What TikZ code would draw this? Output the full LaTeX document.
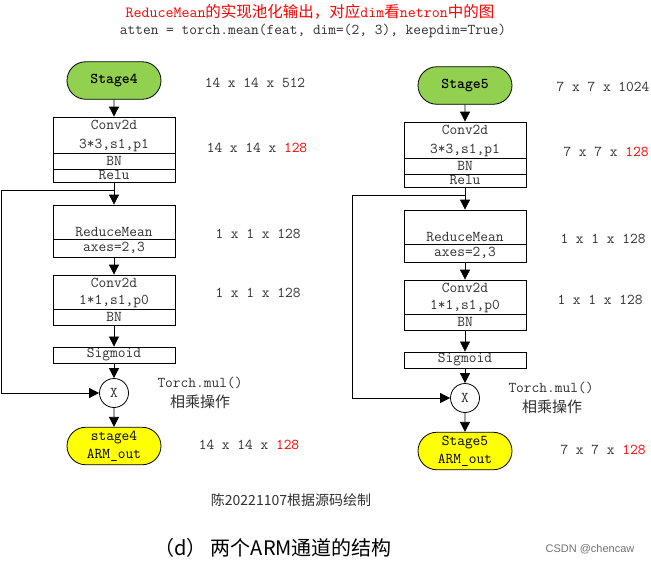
\documentclass[tikz,border=0pt]{standalone}
\usepackage{fontspec}
\setmainfont{Liberation Serif}
\let\lat\ttfamily
\newfontfamily\cjk{Noto Sans CJK SC}
\newfontfamily\sans{Liberation Sans}
\usetikzlibrary{shapes.misc,arrows.meta}
\definecolor{stagegreen}{HTML}{92D050}
\definecolor{outyellow}{HTML}{FFFF00}
\definecolor{lbl}{HTML}{303030}
\definecolor{redtxt}{HTML}{FF0000}
\tikzset{
  every node/.style={inner sep=0pt, text=lbl, font=\lat\fontsize{15}{18}\selectfont},
  term/.style={draw=black, line width=0.8pt, rounded rectangle, minimum width=94pt, minimum height=37.5pt, align=center, text=black},
  blk/.style={draw=black, line width=0.8pt, minimum width=122pt},
  divline/.style={line width=0.8pt},
  arr/.style={line width=0.8pt, -{Triangle[width=10pt,length=10pt]}},
  mulnode/.style={draw=black, circle, line width=0.8pt, minimum size=29pt},
  cjklbl/.style={font=\cjk\fontsize{15}{18}\selectfont},
}
\newcommand\armcol[3]{%
  \node[term, fill=stagegreen, font=\lat\bfseries\fontsize{15}{18}\selectfont] (#1s) at (114,80.5) {#2};
  \node[blk, minimum height=65pt] (#1c) at (114,149.5) {};
  \draw[divline] (53,153) -- (175,153) (53,169) -- (175,169);
  \node at (114,125) {Conv2d};
  \node at (114,145) {3*3,s1,p1};
  \node at (114,161) {BN};
  \node at (114,175.5) {Relu};
  \node[blk, minimum height=52pt] (#1r) at (114,231) {};
  \draw[divline] (53,239) -- (175,239);
  \node at (114,232) {ReduceMean};
  \node at (114,248) {axes=2,3};
  \node[blk, minimum height=50pt] (#1k) at (114,300) {};
  \draw[divline] (53,309) -- (175,309);
  \node at (114,283) {Conv2d};
  \node at (114,301) {1*1,s1,p0};
  \node at (114,317) {BN};
  \node[blk, minimum height=16.5pt] (#1g) at (114,355.2) {};
  \node at (114,355) {Sigmoid};
  \node[mulnode] (#1x) at (114,393) {X};
  \node[term, fill=outyellow] (#1o) at (114,446) {#3};
  \coordinate (#1j) at (114,190);
  \coordinate (#1f) at (1.2,190);
  \draw[arr] (#1s) -- (#1c);
  \draw[arr] (#1c) -- (#1r);
  \draw[arr] (#1r) -- (#1k);
  \draw[arr] (#1k) -- (#1g);
  \draw[arr] (#1g) -- (#1x);
  \draw[arr] (#1x) -- (#1o);
  \draw[arr] (#1j) -- (#1f) |- (#1x);
}
\begin{document}
\begin{tikzpicture}[x=1pt,y=-1pt]
  \fill[white] (0,0) rectangle (651,563);
  \useasboundingbox (0,0) rectangle (651,563);
  % titles
  \node[text=redtxt, font=\fontsize{15.5}{18}\selectfont] (t1) at (310,12)
    {{\lat ReduceMean}{\cjk 的实现池化输出，对应}{\lat dim}{\cjk 看}{\lat netron}{\cjk 中的图}};
  \node (t2) at (313,31) {atten = torch.mean(feat, dim=(2, 3), keepdim=True)};
  % columns
  \begin{scope}
    \armcol{L}{Stage4}{stage4\\ARM\_out}
  \end{scope}
  \begin{scope}[shift={(351,5)}]
    \armcol{R}{Stage5}{Stage5\\ARM\_out}
  \end{scope}
  % left labels
  \node (l1) at (255,83) {14 x 14 x 512};
  \node (l2) at (257,147.5) {14 x 14 x \textcolor{redtxt}{128}};
  \node (l3) at (258,233.5) {1 x 1 x 128};
  \node (l4) at (258,293) {1 x 1 x 128};
  \node (l5) at (200,383) {Torch.mul()};
  \node[cjklbl] (l6) at (200,402) {相乘操作};
  \node (l7) at (249,445) {14 x 14 x \textcolor{redtxt}{128}};
  % right labels
  \node (r1) at (603,87) {7 x 7 x 1024};
  \node (r2) at (606,152) {7 x 7 x \textcolor{redtxt}{128}};
  \node (r3) at (603,238.5) {1 x 1 x 128};
  \node (r4) at (600,300) {1 x 1 x 128};
  \node (r5) at (551,388) {Torch.mul()};
  \node[cjklbl] (r6) at (552,407) {相乘操作};
  \node (r7) at (603,450) {7 x 7 x \textcolor{redtxt}{128}};
  % bottom
  \node[font=\cjk\fontsize{14}{16}\selectfont] (b1) at (291,500) {陈20221107根据源码绘制};
  \node[font=\cjk\fontsize{20}{22}\selectfont, text=black] (b2) at (273,548) {（d） 两个ARM通道的结构};
  \node[font=\sans\fontsize{11}{13}\selectfont, text=black!55] (b3) at (590,549) {CSDN @chencaw};
\end{tikzpicture}
\end{document}
